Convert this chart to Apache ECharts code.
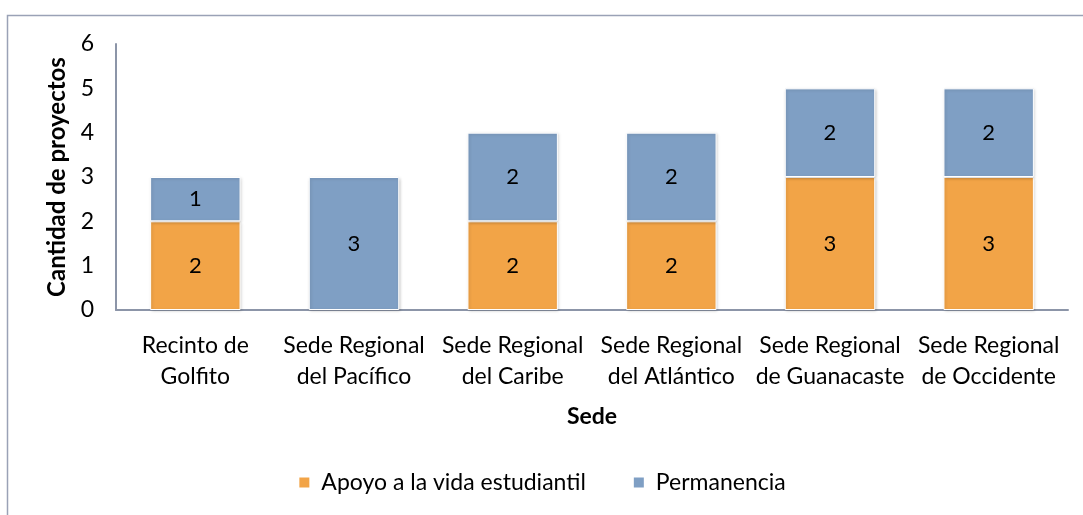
<!DOCTYPE html>
<html>
<head>
<meta charset="utf-8">
<script src="https://cdn.jsdelivr.net/npm/echarts@6/dist/echarts.min.js"></script>
<style>
  html, body { margin: 0; padding: 0; background: #fff; }
  #chart { width: 1083px; height: 515px; }
</style>
</head>
<body>
<div id="chart"></div>
<script>
var sedes = ['Recinto de\nGolfito', 'Sede Regional\ndel Pacífico', 'Sede Regional\ndel Caribe',
    'Sede Regional\ndel Atlántico', 'Sede Regional\nde Guanacaste', 'Sede Regional\nde Occidente'];
var apoyo = [2, 0, 2, 2, 3, 3];
var permanencia = [1, 3, 2, 2, 2, 2];
var yTicks = [0, 1, 2, 3, 4, 5, 6];

var font = 'Lato, "Open Sans", sans-serif';

var myChart = echarts.init(document.getElementById('chart'));

function barSeries(name, values, color) {
    return {
        name: name,
        type: 'bar',
        stack: 'total',
        barWidth: '57%',
        data: values.map(function (v) { return v === 0 ? null : v; }),
        itemStyle: {
            color: color,
            borderColor: '#ffffff',
            borderWidth: 1,
            shadowColor: 'rgba(0,0,0,0.18)',
            shadowBlur: 3,
            shadowOffsetX: 1,
            shadowOffsetY: 1
        },
        label: {
            show: true,
            position: 'inside',
            color: '#000',
            fontFamily: font,
            fontSize: 22
        }
    };
}

var option = {
    animation: false,
    textStyle: { fontFamily: font },
    graphic: [{
        type: 'rect',
        shape: { x: 7.5, y: 15.5, width: 1100, height: 520 },
        style: { fill: 'none', stroke: '#9aa2b6', lineWidth: 1.5 },
        silent: true
    }],
    grid: { left: 116, right: 15, top: 44, bottom: 205 },
    legend: {
        bottom: 16,
        left: 'center',
        itemWidth: 12,
        itemHeight: 12,
        itemGap: 46,
        icon: 'rect',
        textStyle: { fontFamily: font, fontSize: 23, color: '#000', padding: [0, 0, 0, 6] },
        data: ['Apoyo a la vida estudiantil', 'Permanencia']
    },
    xAxis: {
        type: 'category',
        data: sedes,
        name: 'Sede',
        nameLocation: 'middle',
        nameGap: 95,
        nameTextStyle: { fontFamily: font, fontSize: 23, fontWeight: 'bold', color: '#000' },
        axisLine: { lineStyle: { color: '#8c95a8', width: 2 } },
        axisTick: { show: false },
        axisLabel: { interval: 0, color: '#000', fontFamily: font, fontSize: 23, lineHeight: 31, margin: 20 }
    },
    yAxis: {
        type: 'value',
        min: yTicks[0],
        max: yTicks[yTicks.length - 1],
        interval: 1,
        name: 'Cantidad de proyectos',
        nameLocation: 'middle',
        nameGap: 46,
        nameTextStyle: { fontFamily: font, fontSize: 24, fontWeight: 'bold', color: '#000' },
        axisLine: { show: true, lineStyle: { color: '#8c95a8', width: 2 } },
        axisTick: { show: false },
        splitLine: { show: false },
        axisLabel: { color: '#000', fontFamily: font, fontSize: 23, margin: 22 }
    },
    series: [
        barSeries('Apoyo a la vida estudiantil', apoyo, '#f2a447'),
        barSeries('Permanencia', permanencia, '#7f9fc4')
    ]
};
myChart.setOption(option);
</script>
</body>
</html>
